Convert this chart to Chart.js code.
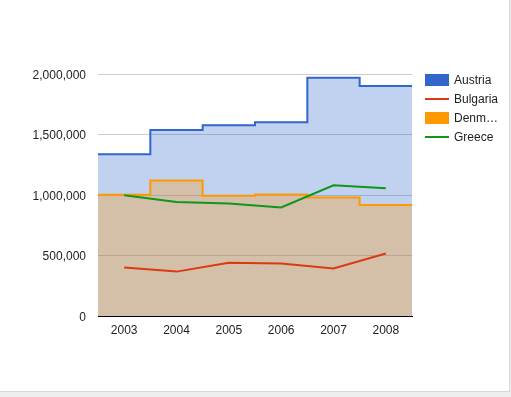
<!DOCTYPE html>
<html>
<head>
<meta charset="utf-8">
<script src="https://cdn.jsdelivr.net/npm/chart.js@4/dist/chart.umd.min.js"></script>
<style>
  html, body { margin: 0; padding: 0; background: #eeeeee; }
  #frame { width: 509px; height: 391px; background: #ffffff; border-right: 1px solid #d8d8d8; border-bottom: 1px solid #d8d8d8; position: relative; }
  canvas { display: block; }
</style>
</head>
<body>
<div id="frame"><canvas id="c" width="509" height="391"></canvas></div>
<script>
const years = ['2003', '2004', '2005', '2006', '2007', '2008'];
const austria = [1336060, 1538156, 1576579, 1600652, 1968113, 1901067];
const bulgaria = [400361, 366849, 440514, 434552, 393032, 517206];
const denmark = [1001582, 1119450, 993360, 1004163, 979198, 916965];
const greece = [997974, 941795, 930593, 897127, 1080887, 1056036];
const yTicks = [0, 500000, 1000000, 1500000, 2000000];

const FONT = '"Liberation Sans", Arial, sans-serif';

// stepped series: each value spans its whole category (from i-0.5 to i+0.5)
function stepPoints(vals) {
  const pts = vals.map((v, i) => ({ x: i - 0.5, y: v }));
  pts.push({ x: vals.length - 0.5, y: vals[vals.length - 1] });
  return pts;
}
function linePoints(vals) {
  return vals.map((v, i) => ({ x: i, y: v }));
}

const legendPlugin = {
  id: 'customLegend',
  afterDraw(chart) {
    const ctx = chart.ctx;
    const x0 = 425, y0 = 80, gap = 19, maxW = 46;
    ctx.save();
    ctx.font = '12px ' + FONT;
    ctx.textBaseline = 'middle';
    ctx.textAlign = 'left';
    chart.data.datasets.forEach((ds, i) => {
      const cy = y0 + i * gap;
      ctx.fillStyle = ds.borderColor;
      if (ds.kind === 'area') {
        ctx.fillRect(x0, cy - 6, 24, 12);
      } else {
        ctx.fillRect(x0, cy - 1, 24, 2);
      }
      let t = ds.label;
      if (ctx.measureText(t).width > maxW) {
        while (t.length > 1 && ctx.measureText(t + '…').width > maxW) t = t.slice(0, -1);
        t = t + '…';
      }
      ctx.fillStyle = '#222222';
      ctx.fillText(t, x0 + 29, cy + 1);
    });
    ctx.restore();
  }
};

new Chart(document.getElementById('c'), {
  type: 'line',
  data: {
    datasets: [
      { label: 'Austria', kind: 'area', data: stepPoints(austria), stepped: 'before',
        borderColor: '#3366cc', backgroundColor: 'rgba(51,102,204,0.3)', fill: 'origin',
        borderWidth: 2, pointRadius: 0, order: 2 },
      { label: 'Bulgaria', kind: 'line', data: linePoints(bulgaria),
        borderColor: '#dc3912', backgroundColor: '#dc3912', fill: false,
        borderWidth: 2, pointRadius: 0, order: 0, tension: 0 },
      { label: 'Denmark', kind: 'area', data: stepPoints(denmark), stepped: 'before',
        borderColor: '#ff9900', backgroundColor: 'rgba(255,153,0,0.3)', fill: 'origin',
        borderWidth: 2, pointRadius: 0, order: 1 },
      { label: 'Greece', kind: 'line', data: linePoints(greece),
        borderColor: '#109618', backgroundColor: '#109618', fill: false,
        borderWidth: 2, pointRadius: 0, order: 0, tension: 0 }
    ]
  },
  options: {
    responsive: false,
    animation: false,
    layout: { padding: { top: 74, right: 97, left: 0, bottom: 45 } },
    plugins: { legend: { display: false }, tooltip: { enabled: false } },
    scales: {
      x: {
        type: 'linear',
        min: -0.5,
        max: years.length - 0.5,
        afterBuildTicks(scale) { scale.ticks = years.map((_, i) => ({ value: i })); },
        afterFit(scale) { scale.height = 30; },
        ticks: {
          callback: (v) => years[v] !== undefined ? years[v] : '',
          font: { family: FONT, size: 12 },
          color: '#222222',
          padding: 7,
          maxRotation: 0,
          autoSkip: false
        },
        grid: { display: false, drawTicks: false },
        border: { display: true, color: '#000000', width: 1 }
      },
      y: {
        min: 0,
        max: 2000000,
        afterBuildTicks(scale) { scale.ticks = yTicks.map(v => ({ value: v })); },
        afterFit(scale) { scale.width = 98; },
        ticks: {
          callback: (v) => v.toLocaleString('en-US'),
          font: { family: FONT, size: 12 },
          color: '#222222',
          padding: 12,
          labelOffset: 1.5
        },
        grid: { color: '#cccccc', drawTicks: false, lineWidth: 1 },
        border: { display: false }
      }
    }
  },
  plugins: [legendPlugin]
});
</script>
</body>
</html>
